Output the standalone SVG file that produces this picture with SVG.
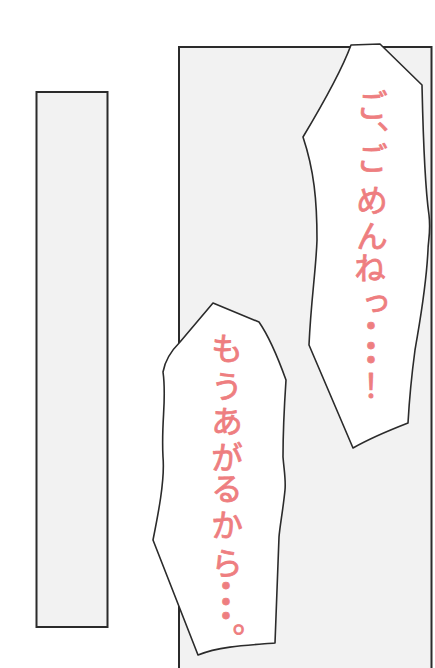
<svg xmlns="http://www.w3.org/2000/svg" width="435" height="668" viewBox="0 0 435 668">
<style>
.panel{fill:#f2f2f2;stroke:#2b2b2b;stroke-width:2}
.bubble{fill:#ffffff;stroke:#2b2b2b;stroke-width:1.6;stroke-linejoin:round}
.say{font-family:"Noto Sans CJK JP","Noto Sans CJK SC",sans-serif;font-size:32px;font-weight:400;fill:#ee7e80;stroke:#ee7e80;stroke-width:0.8;stroke-linejoin:round;writing-mode:vertical-rl;text-orientation:upright;text-anchor:middle}
</style>
<rect width="435" height="668" fill="#ffffff"/>
<g id="panel-left">
<rect class="panel" x="36.5" y="92" width="71" height="535"/>
</g>
<g id="panel-right">
<rect class="panel" x="179" y="47" width="252.5" height="640"/>
</g>
<g id="bubble-1">
<path class="bubble" d="M351,45 L380,44 L422,85 C423,130 424,180 429,215 C431,232 428,242 428,250 C426,290 420,320 415,350 C411,380 409,405 408,423 C390,430 367,440 353,448 L309,345 C311,300 316,270 317,240 C317,200 314,170 303,137 C318,112 340,75 351,45 Z"/>
<text class="say"><tspan x="372" y="105">ご</tspan><tspan x="373" y="137">、</tspan><tspan x="372" y="158">ご</tspan><tspan x="372" y="200">め</tspan><tspan x="372" y="236">ん</tspan><tspan x="370" y="268">ね</tspan><tspan x="373" y="303">っ</tspan><tspan x="371" y="326">・</tspan><tspan x="371" y="346">・</tspan><tspan x="371" y="360">・</tspan><tspan x="371" y="385">！</tspan></text>
</g>
<g id="bubble-2">
<path class="bubble" d="M213,303 L259,322 C268,335 277,355 286,380 C284,410 283,440 283,457 C284,470 286,480 285,490 C283,510 280,525 279,537 C278,570 276,610 275,643 C250,645 220,646 198,655 L153,540 C158,515 165,480 163,457 C161,420 167,400 163,372 C165,360 172,350 180,342 Z"/>
<text class="say"><tspan x="227" y="348">も</tspan><tspan x="227" y="386">う</tspan><tspan x="227" y="421">あ</tspan><tspan x="227" y="457">が</tspan><tspan x="227" y="488">る</tspan><tspan x="227" y="525">か</tspan><tspan x="227" y="563">ら</tspan><tspan x="226" y="586">・</tspan><tspan x="226" y="602">・</tspan><tspan x="226" y="616">・</tspan><tspan x="229" y="639">。</tspan></text>
</g>
</svg>
